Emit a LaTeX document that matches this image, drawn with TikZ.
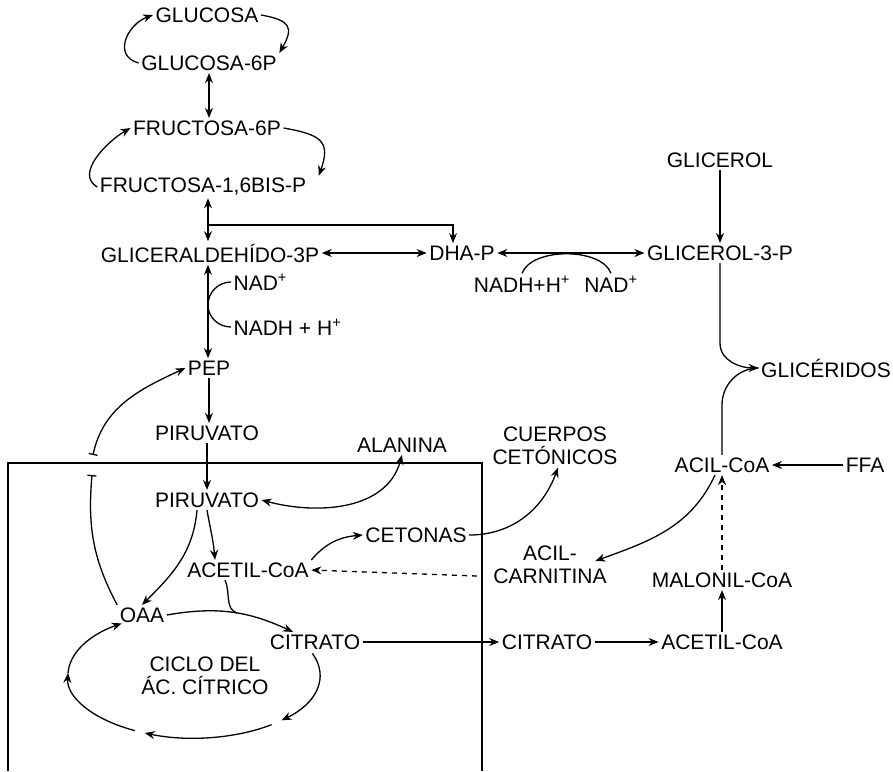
\documentclass[tikz,border=0pt]{standalone}
\usepackage{fontspec}
\setmainfont{Liberation Sans}
\usetikzlibrary{arrows.meta,calc}
\begin{document}
\begin{tikzpicture}[x=1pt, y=1pt, >={Stealth[length=10pt,width=8pt]}, line width=1.3pt,
    inner sep=2pt, font=\fontsize{21}{23}\selectfont]
\useasboundingbox (0,0) rectangle (893,-771);
% hexosas
\node (glc) at (207,-15) {GLUCOSA};
\node (g6p) at (209,-63) {GLUCOSA-6P};
\node (f6p) at (207,-128) {FRUCTOSA-6P};
\node (fbp) at (203,-187) {FRUCTOSA-1,6BIS-P};
\draw[->] (g6p.west) to[out=165,in=200,looseness=1.4] (glc.west);
\draw[->] (glc.east) to[out=-10,in=60,looseness=1.8] (g6p.north east);
\draw[<->] (g6p.south) -- (g6p.south |- f6p.north);
\draw[->] (fbp.west) to[out=150,in=210] (f6p.west);
\draw[->] (f6p.east) to[out=-10,in=70,looseness=1.6] ([xshift=10pt]fbp.north east);
% triosas
\node (gap) at (210,-253) {GLICERALDEH\'IDO-3P};
\node (dhap) at (462,-253) {DHA-P};
\node (g3p) at (720,-253) {GLICEROL-3-P};
\node (gol) at (720,-160) {GLICEROL};
\node (nadhA) at (522,-284) {NADH+H\textsuperscript{+}};
\node (nadA) at (611,-284) {NAD\textsuperscript{+}};
\coordinate (jn) at (208,-225);
\draw[->] (jn) -- (jn |- fbp.south);
\draw[->] (jn) -- (jn |- gap.north);
\draw[->] (jn) -| ([xshift=-9pt]dhap.north);
\draw[<->] (gap) -- (dhap);
\draw[<->] (dhap) -- (g3p);
\draw (nadhA.north) to[out=70,in=110,looseness=0.8] (nadA.north);
\draw[->] (gol) -- (g3p);
% glucolisis
\node[right] (nad) at (231,-282) {NAD\textsuperscript{+}};
\node[right] (nadh) at (231,-327) {NADH + H\textsuperscript{+}};
\node (pep) at (209,-368) {PEP};
\node (pyr1) at (207,-433) {PIRUVATO};
\node (pyr2) at (207,-500) {PIRUVATO};
\coordinate (nadtouch) at (208,-305);
\draw[<->] (jn |- gap.south) -- (jn |- pep.north);
\draw (nad.west) to[out=180,in=90] (nadtouch) to[out=-90,in=180] (nadh.west);
\draw[->] (pep.south) -- (pep.south |- pyr1.north);
\draw[->] (pyr1) -- (pyr2);
% mitocondria
\draw (8,-771) |- (482,-463) -- (482,-771);
\node (ala) at (402,-445) {ALANINA};
\node[align=center] (cb) at (555,-446) {CUERPOS\\CET\'ONICOS};
\node (ket) at (416,-535) {CETONAS};
\node (aca1) at (248,-570) {ACETIL-CoA};
\node (oaa) at (142,-615) {OAA};
\node (cit1) at (315,-642) {CITRATO};
\node[align=center] (ciclo) at (205,-676) {CICLO DEL\\\'AC. C\'ITRICO};
\draw[<->] (pyr2.east) to[out=-15,in=-105] (ala.south);
\draw[->] (pyr2.south) to[out=-80,in=95] ([xshift=-33pt]aca1.north);
\draw[->] ([xshift=-10pt]pyr2.south) to[out=-95,in=45] (oaa.north);
\draw[->] (aca1.north east) to[out=50,in=185] (ket.west);
\draw[->] (ket.east) to[out=0,in=-110] ([xshift=3pt]cb.south);
\draw[->] (oaa.east) to[out=10,in=155] coordinate[pos=0.55] (mix) ([xshift=-22pt]cit1.north);
\draw ([xshift=-23pt]aca1.south) to[out=-65,in=160] (mix);
\coordinate (mt1) at (92,-475);
\coordinate (mt2) at (93,-455);
\draw[-{Bar[width=9pt]}] (oaa.north west) to[out=118,in=-95] (mt1);
\draw[{Bar[width=9pt]}->] (mt2) to[out=78,in=205] (pep.west);
% ciclo de krebs
\coordinate (cyc) at (194,-675);
\draw[->] ($(cyc)+(20:126 and 63)$) arc[start angle=20, end angle=-46, x radius=126, y radius=63];
\draw[->] ($(cyc)+(-52:126 and 63)$) arc[start angle=-52, end angle=-113, x radius=126, y radius=63];
\draw[->] ($(cyc)+(-118:126 and 63)$) arc[start angle=-118, end angle=-182, x radius=126, y radius=63];
\draw[->] ($(cyc)+(178:126 and 63)$) arc[start angle=178, end angle=125, x radius=126, y radius=63];
% lipidos
\node (glid) at (826,-368) {GLIC\'ERIDOS};
\node (acyl) at (722,-465) {ACIL-CoA};
\node (ffa) at (865,-465) {FFA};
\node[align=center] (acar) at (550,-565) {ACIL-\\CARNITINA};
\node (mal) at (722,-580) {MALONIL-CoA};
\node (aca2) at (722,-642) {ACETIL-CoA};
\node (cit2) at (547,-642) {CITRATO};
\draw[->] (g3p.south) -- ++(0,-80) to[out=-90,in=180] (glid.west);
\draw (acyl.north) -- ++(0,50) to[out=90,in=180] (glid.west);
\draw[->] (ffa) -- (acyl);
\draw[->, dash pattern=on 5pt off 5pt] (mal) -- (acyl);
\draw[->] (aca2) -- (mal);
\draw[->] (cit2) -- (aca2);
\draw[->] (cit1) -- (cit2);
\draw[->] ([xshift=-7pt]acyl.south) to[out=-115,in=20] ($(acar.east)+(-14,4)$);
\draw[->, dash pattern=on 5pt off 5pt] ($(acar.west)+(-14,-11)$) -- (aca1.east);
\end{tikzpicture}
\end{document}
